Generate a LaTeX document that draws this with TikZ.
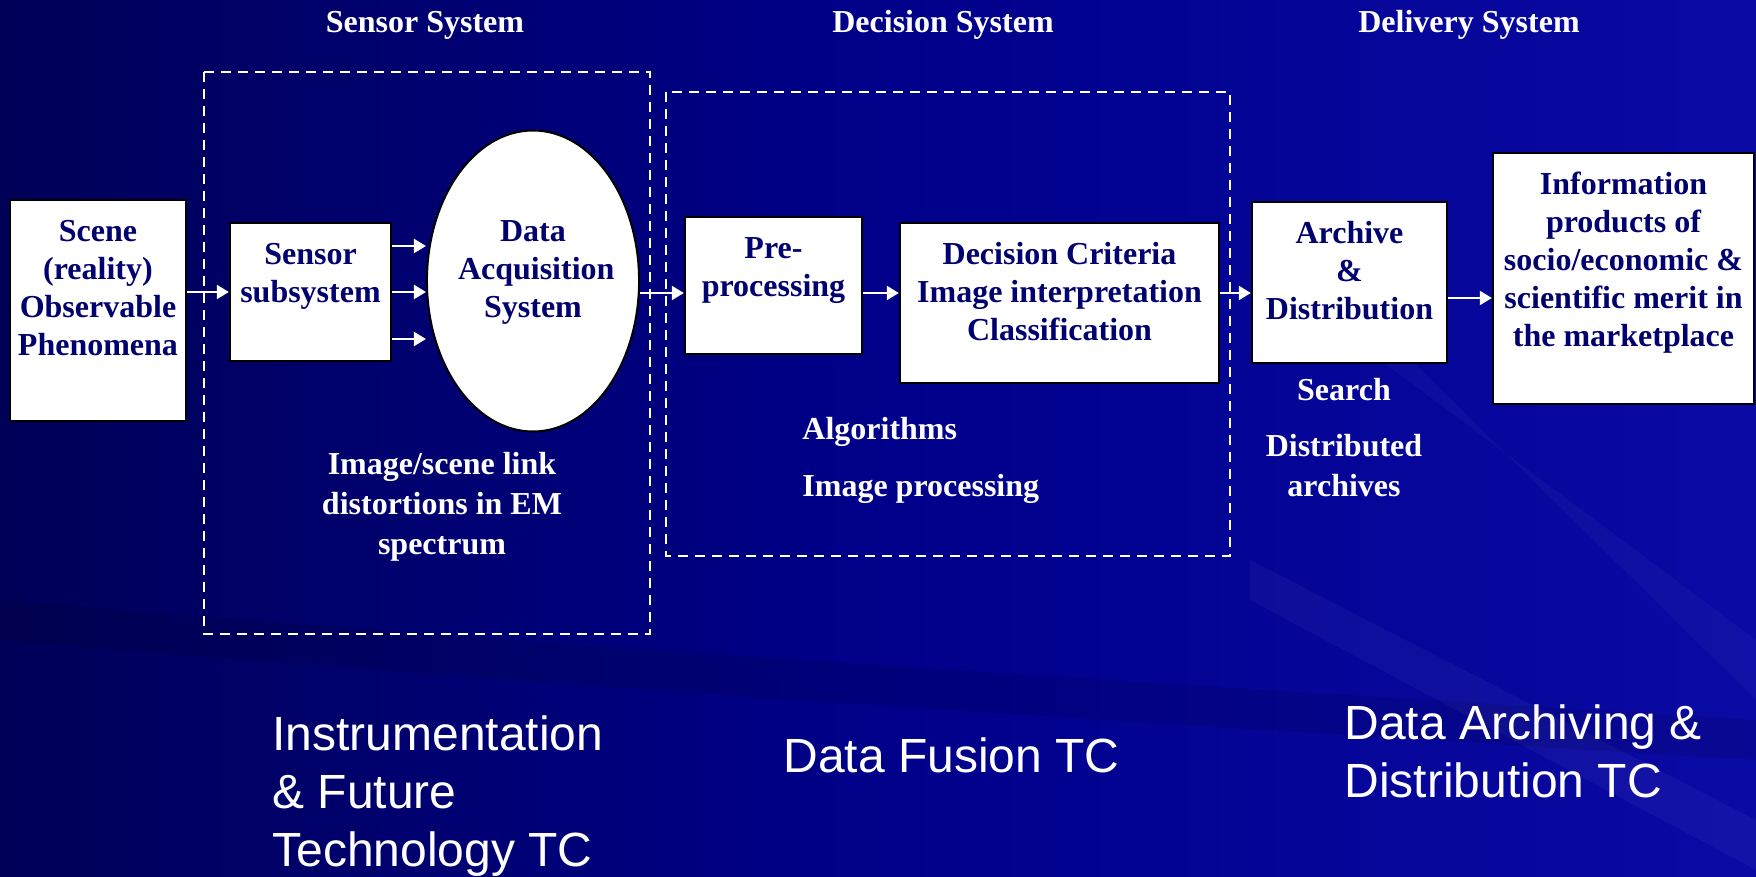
\documentclass[tikz,border=0pt]{standalone}
\usepackage{fontspec}
\setmainfont{Liberation Serif}
\newfontfamily\arialfont{Liberation Sans}
\usetikzlibrary{arrows.meta,shapes.geometric}
\definecolor{navytext}{RGB}{0,0,110}
\definecolor{bgdark}{RGB}{0,0,88}
\definecolor{bgmid}{RGB}{0,0,138}
\definecolor{bglight}{RGB}{10,10,165}
\tikzset{
  boxfont/.style = {font=\bfseries\fontsize{16}{19}\selectfont},
  flowbox/.style = {boxfont, align=flush center, inner sep=0pt, text=navytext, draw=black, fill=white, line width=1.2pt, text height=21pt},
  WhiteBox/.style 2 args = {flowbox, rectangle, text width=#1, text depth=#2},
  EllipseNode/.style = {flowbox, ellipse, line width=1pt, text width=75pt, text height=10pt, text depth=49pt, minimum width=105pt, minimum height=150.5pt},
  GroupBox/.style = {draw=white, line width=1pt, dash pattern=on 5pt off 3.5pt},
  Heading/.style = {boxfont, text=white, inner sep=0pt},
  NoteText/.style = {text=white, align=flush center, inner sep=0pt, font=\bfseries\fontsize{16}{20}\selectfont},
  TCText/.style = {text=white, align=flush left, inner sep=0pt, font=\arialfont\fontsize{24}{29}\selectfont},
  Flow/.style = {-{Triangle[length=6pt,width=7pt]}, white, line width=1.1pt}
}
\begin{document}
\begin{tikzpicture}[x=0.5pt, y=-0.5pt]
  % background
  \shade[left color=bgdark, right color=bglight, middle color=bgmid] (0,0) rectangle (1756,877);
  \useasboundingbox (0,0) rectangle (1756,877);
  \fill[white, opacity=0.04] (1250,560) -- (1756,820) -- (1756,870) -- (1250,600) -- cycle;
  \fill[white, opacity=0.03] (1300,300) -- (1756,640) -- (1756,700) -- (1350,300) -- cycle;
  \fill[black, opacity=0.1] (0,640) .. controls (600,690) and (1100,720) .. (1756,760) -- (1756,720) .. controls (1100,680) and (600,650) .. (0,600) -- cycle;

  % system groups
  \draw[GroupBox] (204,72) rectangle (650,634);
  \draw[GroupBox] (666,92) rectangle (1230,556);

  \node[Heading] (sensorsys) at (425,25) {Sensor System};
  \node[Heading] (decisionsys) at (943,25) {Decision System};
  \node[Heading] (deliverysys) at (1469,25) {Delivery System};

  % boxes
  \node[WhiteBox={88pt}{89.5pt}] (scene) at (98,310.5) {Scene\\(reality)\\Observable\\Phenomena};
  \node[WhiteBox={80.5pt}{48pt}] (sensor) at (310.5,292) {Sensor\\subsystem};
  \node[EllipseNode] (acq) at (533,281) {Data\\Acquisition\\System};
  \node[WhiteBox={88.5pt}{47.5pt}] (pre) at (773.5,285.5) {Pre-\\processing};
  \node[WhiteBox={159.5pt}{59pt}] (crit) at (1059.5,303) {Decision Criteria\\Image interpretation\\Classification};
  \node[WhiteBox={97.5pt}{59.5pt}] (arch) at (1349.5,282.5) {Archive\\\&\\Distribution};
  \node[WhiteBox={130.5pt}{104.5pt}] (info) at (1623.5,278.5) {Information\\products of\\socio/economic \&\\scientific merit in\\the marketplace};

  % arrows
  \draw[Flow] (scene.east |- sensor.west) -- (sensor.west);
  \draw[Flow] ([yshift=23pt]sensor.east) -- ([yshift=23pt]sensor.east -| acq.west);
  \draw[Flow] (sensor.east) -- (sensor.east -| acq.west);
  \draw[Flow] ([yshift=-23.5pt]sensor.east) -- ([yshift=-23.5pt]sensor.east -| acq.west);
  \draw[Flow] ([yshift=-6pt]acq.east) -- ([yshift=-6pt]acq.east -| pre.west);
  \draw[Flow] ([yshift=-3.75pt]pre.east) -- ([yshift=-3.75pt]pre.east -| crit.west);
  \draw[Flow] ([yshift=5pt]crit.east) -- ([yshift=5pt]crit.east -| arch.west);
  \draw[Flow] ([yshift=-7.75pt]arch.east) -- ([yshift=-7.75pt]arch.east -| info.west);

  % notes
  \node[NoteText] (linknote) at (442,507) {Image/scene link\\distortions in EM\\spectrum};
  \node[NoteText, anchor=west] (algo) at (802,432) {Algorithms};
  \node[NoteText, anchor=west] (improc) at (802,489) {Image processing};
  \node[NoteText] (search) at (1344,390) {Search};
  \node[NoteText] (distarch) at (1344,466) {Distributed\\archives};

  % technical committees
  \node[TCText, anchor=west] (instrtc) at (272,796) {Instrumentation\\\& Future\\Technology TC};
  \node[TCText, anchor=west] (fusiontc) at (783,755) {Data Fusion TC};
  \node[TCText, anchor=west] (archtc) at (1344,751) {Data Archiving \&\\Distribution TC};
\end{tikzpicture}
\end{document}
